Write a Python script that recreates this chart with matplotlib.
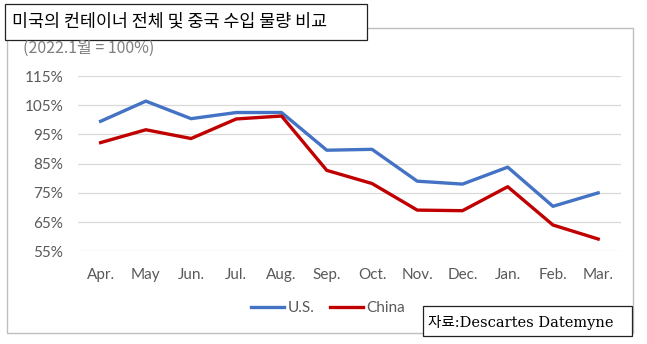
import matplotlib
matplotlib.use('Agg')
from matplotlib import pyplot as plt
from matplotlib.patches import Rectangle
from matplotlib.lines import Line2D

months = ['Apr.', 'May', 'Jun.', 'Jul.', 'Aug.', 'Sep.', 'Oct.', 'Nov.', 'Dec.', 'Jan.', 'Feb.', 'Mar.']
us = [99.5, 106.4, 100.4, 102.5, 102.5, 89.6, 89.9, 79.0, 78.0, 83.8, 70.4, 75.0]
china = [92.2, 96.6, 93.6, 100.3, 101.3, 82.7, 78.2, 69.1, 68.9, 77.1, 64.0, 59.2]
yticks = [55, 65, 75, 85, 95, 105, 115]

W, H = 647, 344
fig = plt.figure(figsize=(W / 100, H / 100), dpi=100)
plt.rcParams['font.family'] = ['Lato', 'DejaVu Sans']


def box(x0, y0, x1, y1, **kw):
    # pixel coords (top-left origin) -> figure fraction
    r = Rectangle((x0 / W, 1 - y1 / H), (x1 - x0) / W, (y1 - y0) / H,
                  transform=fig.transFigure, **kw)
    fig.patches.append(r)


# outer chart frame
box(7, 28, 633, 333, fill=False, edgecolor='#BFBFBF', lw=1)

ax = fig.add_axes([78 / W, 1 - 251.3 / H, 542.8 / W, (251.3 - 76) / H])
x = range(len(months))
ax.plot(x, us, color='#4472C4', lw=2.4, solid_joinstyle='round', label='U.S.')
ax.plot(x, china, color='#C00000', lw=2.4, solid_joinstyle='round', label='China')
ax.set_xlim(-0.5, len(months) - 0.5)
ax.set_ylim(55, 115)
ax.set_yticks(yticks)
ax.set_yticklabels([f'{v}%' for v in yticks])
ax.set_xticks(list(x))
ax.set_xticklabels(months)
ax.grid(axis='y', color='#D9D9D9', lw=0.9)
ax.set_axisbelow(True)
for s in ax.spines.values():
    s.set_visible(False)
ax.tick_params(axis='both', length=0, labelsize=11, colors='#595959')
ax.tick_params(axis='y', pad=10.5)
ax.tick_params(axis='x', pad=12)

# legend
handles = [Line2D([], [], color='#4472C4', lw=2.4), Line2D([], [], color='#C00000', lw=2.4)]
fig.legend(handles, ['U.S.', 'China'], loc='center', bbox_to_anchor=(328 / W, 1 - 308 / H),
           ncol=2, frameon=False, fontsize=11, labelcolor='#595959',
           handlelength=2.2, handletextpad=0.2, columnspacing=1.0)

# title box
box(5, 4, 367, 40, facecolor='white', edgecolor='#222222', lw=0.9)
fig.text(12 / W, 1 - 22 / H, '미국의 컨테이너 전체 및 중국 수입 물량 비교', fontsize=12.5,
         family=['Noto Sans CJK KR', 'DejaVu Sans'], va='center', ha='left', color='black')
fig.text(23 / W, 1 - 48 / H, '(2022.1월 = 100%)', fontsize=11.5,
         family=['Noto Sans CJK KR', 'DejaVu Sans'], va='center', ha='left', color='#808080')

# source box
box(423, 306, 632, 336, facecolor='white', edgecolor='#222222', lw=0.9)
fig.text(428 / W, 1 - 322 / H, '자료:Descartes Datemyne', fontsize=10.5,
         family=['DejaVu Serif', 'Noto Sans CJK KR'], va='center', ha='left', color='black')

fig.savefig('out.png', dpi=100)
